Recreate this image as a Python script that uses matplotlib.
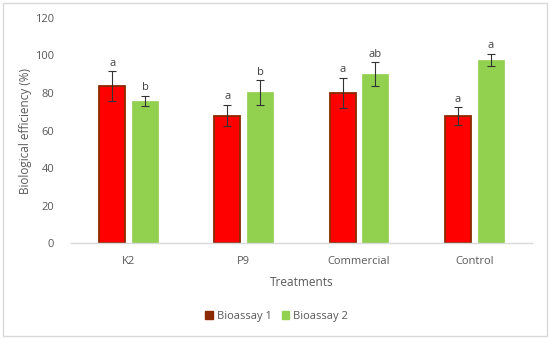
import matplotlib
matplotlib.use("Agg")
import matplotlib.pyplot as plt
import numpy as np
from matplotlib.patches import Rectangle

categories = ["K2", "P9", "Commercial", "Control"]
bio1 = [83.5, 68.0, 80.2, 67.5]
bio1_err = [8.0, 5.8, 8.0, 4.8]
bio1_letters = ["a", "a", "a", "a"]
bio2 = [75.8, 80.3, 90.0, 97.6]
bio2_err = [2.8, 6.5, 6.5, 3.4]
bio2_letters = ["b", "b", "ab", "a"]
series_names = ["Bioassay 1", "Bioassay 2"]
yticks = [0, 20, 40, 60, 80, 100, 120]

plt.rcParams['font.family'] = ['Open Sans', 'DejaVu Sans']
txt = '#595959'

fig = plt.figure(figsize=(5.5, 3.39), dpi=100)
ax = fig.add_axes([0.129, 0.283, 0.838, 0.664])

x = np.arange(len(categories))
w = 0.225
gap = 0.06
off = (w + gap) / 2
ax.bar(x - off, bio1, w, color='#FF0000', edgecolor='#8B2A00', linewidth=1.3,
       label=series_names[0], zorder=2)
ax.bar(x + off, bio2, w, color='#92D050', edgecolor='#92D050', linewidth=0.5,
       label=series_names[1], zorder=2)
ax.errorbar(x - off, bio1, yerr=bio1_err, fmt='none', ecolor='#333333',
            elinewidth=0.8, capsize=3, capthick=0.8, zorder=3)
ax.errorbar(x + off, bio2, yerr=bio2_err, fmt='none', ecolor='#333333',
            elinewidth=0.8, capsize=3, capthick=0.8, zorder=3)
for i in range(len(categories)):
    ax.text(x[i] - off, bio1[i] + bio1_err[i] + 1.2, bio1_letters[i], ha='center',
            va='bottom', fontsize=8, color='#404040')
    ax.text(x[i] + off, bio2[i] + bio2_err[i] + 1.2, bio2_letters[i], ha='center',
            va='bottom', fontsize=8, color='#404040')

ax.set_xlim(-0.5, len(categories) - 0.5)
ax.set_ylim(0, 120)
ax.set_yticks(yticks)
ax.set_xticks(x)
ax.set_xticklabels(categories)
ax.tick_params(axis='both', length=0, colors=txt, labelsize=8)
ax.tick_params(axis='y', pad=12)
ax.tick_params(axis='x', pad=9)
for s in ['top', 'right', 'left']:
    ax.spines[s].set_visible(False)
ax.spines['bottom'].set_color('#D9D9D9')
ax.spines['bottom'].set_linewidth(1)
ax.set_ylabel('Biological efficiency (%)', color=txt, fontsize=8.5, labelpad=2)
ax.set_xlabel('Treatments', color=txt, fontsize=8.5, labelpad=7)

handles = [Rectangle((0, 0), 1, 1, color='#8B2A00'), Rectangle((0, 0), 1, 1, color='#92D050')]
fig.legend(handles, series_names, loc='center', bbox_to_anchor=(0.503, 0.066), ncol=2,
           frameon=False, fontsize=8, labelcolor=txt, handlelength=0.7, handleheight=0.7,
           handletextpad=0.35, columnspacing=0.9)

border = Rectangle((0.006, 0.009), 0.988, 0.982, transform=fig.transFigure,
                   fill=False, edgecolor='#D9D9D9', linewidth=1)
fig.patches.append(border)

fig.savefig('out.png', dpi=100)
